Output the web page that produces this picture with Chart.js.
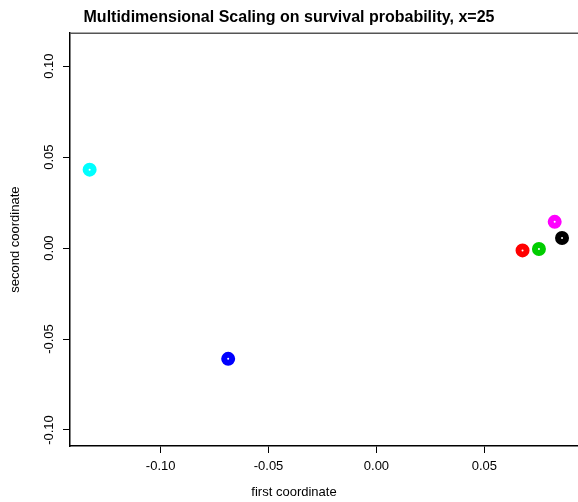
<!DOCTYPE html>
<html lang="en">
<head>
    <meta charset="UTF-8" />
    <title>Multidimensional Scaling on survival probability</title>
    <script src="https://cdn.jsdelivr.net/npm/chart.js"></script>
    <style>
        body {
            margin: 0;
            background: white;
            overflow: hidden;
        }
        canvas {
            display: block;
        }
    </style>
</head>
<body>
<canvas id="mdsChart" width="578" height="502"></canvas>
<script>
    // MDS coordinates
    const firstCoord = [-0.1329, -0.0687, 0.0677, 0.0753, 0.0826, 0.0860];
    const secondCoord = [0.0431, -0.0609, -0.0013, -0.0005, 0.0144, 0.0055];
    const pointColours = ['#00ffff', '#0000ff', '#ff0000', '#00cd00', '#ff00ff', '#000000'];
    const xTicks = [-0.10, -0.05, 0.00, 0.05];
    const yTicks = [-0.10, -0.05, 0.00, 0.05, 0.10];

    const font = 'Liberation Sans, Arial, sans-serif';

    // R-style box top line, plus the x label which R centres a bit left of the visible area
    const rFrame = {
        id: 'rFrame',
        afterDraw(chart) {
            const a = chart.chartArea;
            const ctx = chart.ctx;
            ctx.save();
            ctx.strokeStyle = '#555';
            ctx.lineWidth = 1.5;
            ctx.beginPath();
            ctx.moveTo(a.left, a.top);
            ctx.lineTo(a.right, a.top);
            ctx.stroke();

            ctx.fillStyle = '#000';
            ctx.font = '13px ' + font;
            ctx.textAlign = 'center';
            ctx.textBaseline = 'middle';
            ctx.fillText('first coordinate', 294, 492);
            ctx.restore();
        }
    };

    const fmt = v => v.toFixed(2);

    new Chart(document.getElementById('mdsChart'), {
        type: 'scatter',
        data: {
            datasets: [{
                data: firstCoord.map((x, i) => ({ x: x, y: secondCoord[i] })),
                pointBorderColor: pointColours,
                pointBackgroundColor: '#ffffff',
                pointRadius: 4,
                pointBorderWidth: 6,
                pointHoverRadius: 4
            }]
        },
        options: {
            responsive: false,
            animation: false,
            layout: { padding: 0, autoPadding: false },
            plugins: {
                legend: { display: false },
                tooltip: { enabled: false },
                title: {
                    display: true,
                    text: 'Multidimensional Scaling on survival probability, x=25',
                    color: '#000',
                    font: { family: font, size: 16, weight: 'bold', lineHeight: 1.2 },
                    padding: { top: 8, bottom: 6 }
                }
            },
            scales: {
                x: {
                    type: 'linear',
                    min: -0.1420,
                    max: 0.0934,
                    afterBuildTicks: s => { s.ticks = xTicks.map(v => ({ value: v })); },
                    afterFit: s => { s.height = 56; s.paddingLeft = 0; s.paddingRight = 0; },
                    border: { display: true, color: '#000', width: 1.5 },
                    grid: { drawOnChartArea: false, drawTicks: true, tickLength: 7, color: '#000', lineWidth: 1 },
                    ticks: {
                        color: '#000',
                        padding: 6,
                        font: { family: font, size: 13 },
                        callback: v => fmt(v)
                    },
                    title: { display: false }
                },
                y: {
                    type: 'linear',
                    min: -0.1088,
                    max: 0.1181,
                    afterBuildTicks: s => { s.ticks = yTicks.map(v => ({ value: v })); },
                    afterFit: s => { s.width = 70; s.paddingTop = 0; s.paddingBottom = 0; },
                    border: { display: true, color: '#000', width: 1.5 },
                    grid: { drawOnChartArea: false, drawTicks: true, tickLength: 7, color: '#000', lineWidth: 1 },
                    ticks: {
                        color: '#000',
                        padding: -1,
                        minRotation: 90,
                        maxRotation: 90,
                        crossAlign: 'center',
                        font: { family: font, size: 13 },
                        callback: v => fmt(v)
                    },
                    title: {
                        display: true,
                        text: 'second coordinate',
                        color: '#000',
                        font: { family: font, size: 13 },
                        padding: { top: 8, bottom: 0 }
                    }
                }
            }
        },
        plugins: [rFrame]
    });
</script>
</body>
</html>
